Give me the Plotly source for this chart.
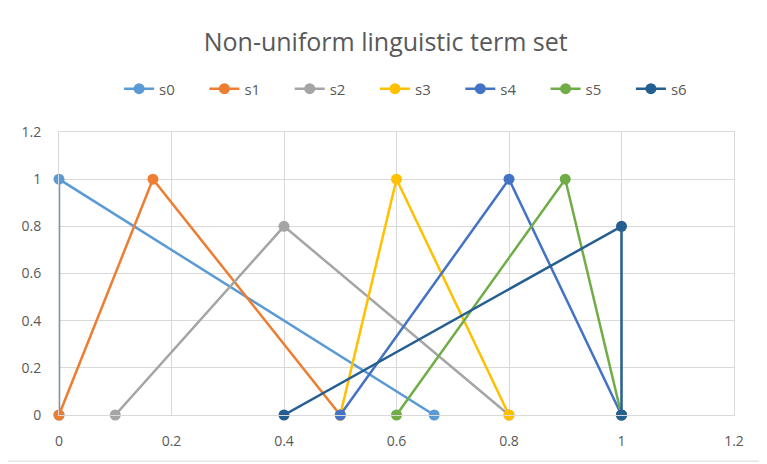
import plotly.graph_objects as go

names = ["s0", "s1", "s2", "s3", "s4", "s5", "s6"]
xs = [
    [0, 0, 0.667],
    [0, 0.167, 0.5],
    [0.1, 0.4, 0.8],
    [0.5, 0.6, 0.8],
    [0.5, 0.8, 1.0],
    [0.6, 0.9, 1.0],
    [0.4, 1.0, 1.0],
]
ys = [
    [0, 1, 0],
    [0, 1, 0],
    [0, 0.8, 0],
    [0, 1, 0],
    [0, 1, 0],
    [0, 1, 0],
    [0, 0.8, 0],
]
colors = ["#5B9BD5", "#ED7D31", "#A5A5A5", "#FFC000", "#4472C4", "#70AD47", "#255E91"]
tick_vals = [0, 0.2, 0.4, 0.6, 0.8, 1.0, 1.2]
tick_text = ["0", "0.2", "0.4", "0.6", "0.8", "1", "1.2"]

fig = go.Figure()
for n, x, y, c in zip(names, xs, ys, colors):
    fig.add_trace(go.Scatter(
        x=x, y=y, name=n, mode="lines+markers",
        line=dict(color=c, width=2.5),
        marker=dict(color=c, size=11),
        cliponaxis=False,
    ))

font_family = "'Open Sans', sans-serif"
axis_common = dict(
    range=[0, 1.2], tickvals=tick_vals, ticktext=tick_text,
    showgrid=True, gridcolor="#D9D9D9", gridwidth=1,
    zeroline=False, showline=True, mirror=True, linecolor="#D9D9D9", linewidth=1,
    ticks="",
    tickfont=dict(size=14, color="#595959", family=font_family),
    fixedrange=True,
)

fig.update_layout(
    width=759, height=456,
    margin=dict(l=51, r=33, t=124, b=49),
    paper_bgcolor="white", plot_bgcolor="white",
    title=dict(text="Non-uniform linguistic term set", xref="paper", x=0.484, xanchor="center",
               y=0.925, yanchor="middle",
               font=dict(size=25, color="#595959", family=font_family)),
    legend=dict(orientation="h", x=0.532, xanchor="center", y=1.152, yanchor="middle",
                font=dict(size=15, color="#595959", family=font_family),
                entrywidth=40.3, traceorder="normal"),
    xaxis=dict(**axis_common, ticklabelstandoff=13),
    yaxis=dict(**axis_common, ticklabelstandoff=14),
    shapes=[dict(type="rect", xref="paper", yref="paper",
                 x0=-0.083, x1=1.045, y0=-0.163, y1=1.46,
                 line=dict(color="#D9D9D9", width=1), layer="below")],
)

fig.write_html("out.html")
